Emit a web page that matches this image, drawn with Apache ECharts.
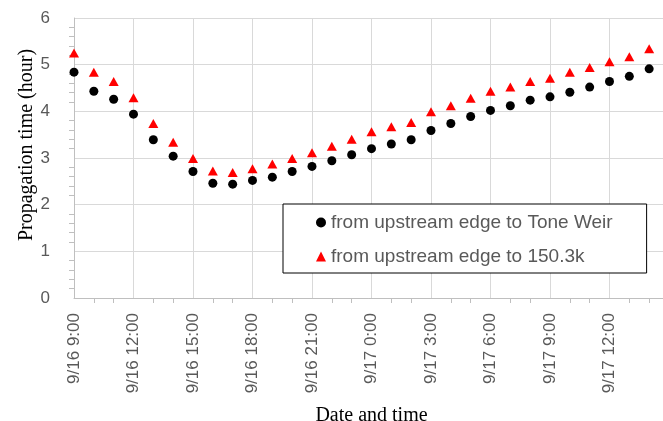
<!DOCTYPE html>
<html><head><meta charset="utf-8">
<script src="https://cdn.jsdelivr.net/npm/echarts@6/dist/echarts.min.js"></script>
<style>html,body{margin:0;padding:0;background:#fff}#c{width:663px;height:421px}</style>
</head><body><div id="c"></div>
<script>
// hours elapsed since 9/16 9:00
const hours = [0,1,2,3,4,5,6,7,8,9,10,11,12,13,14,15,16,17,18,19,20,21,22,23,24,25,26,27,28,29];
const toneWeir = [4.84,4.43,4.26,3.94,3.39,3.04,2.71,2.46,2.44,2.52,2.59,2.71,2.82,2.94,3.07,3.20,3.30,3.39,3.59,3.74,3.89,4.02,4.12,4.24,4.31,4.41,4.52,4.64,4.75,4.91];
const k150 = [5.25,4.84,4.64,4.29,3.74,3.34,2.99,2.72,2.69,2.77,2.87,2.99,3.11,3.25,3.40,3.56,3.67,3.76,3.99,4.12,4.28,4.43,4.52,4.64,4.71,4.84,4.94,5.06,5.17,5.34];
const seriesNames = ['from upstream edge to Tone Weir','from upstream edge to 150.3k'];

function tickLabel(h){
  const t = 9 + h;
  const day = t < 24 ? '9/16' : '9/17';
  return day + ' ' + (t % 24) + ':00';
}
const chart = echarts.init(document.getElementById('c'));
chart.setOption({
  animation:false,
  grid:{left:74, top:18, right:-6, bottom:123, containLabel:false, outerBoundsMode:'none'},
  xAxis:{
    type:'value', min:0, max:30, interval:3,
    name:'Date and time', nameLocation:'middle', nameGap:108,
    nameTextStyle:{fontFamily:'Liberation Serif', fontSize:20, color:'#000'},
    axisLine:{show:true, onZero:false, lineStyle:{color:'#bfbfbf'}},
    axisTick:{show:false},
    minorTick:{show:true, splitNumber:3, length:5, lineStyle:{color:'#bfbfbf'}},
    splitLine:{show:true, lineStyle:{color:'#d9d9d9'}},
    axisLabel:{rotate:90, margin:15, fontFamily:'Liberation Sans', fontSize:17, color:'#595959',
      showMaxLabel:false, formatter:v=>tickLabel(v)}
  },
  yAxis:{
    type:'value', min:0, max:6, interval:1,
    name:'Propagation time (hour)', nameLocation:'middle', nameGap:37, nameMoveOverlap:false,
    nameTextStyle:{fontFamily:'Liberation Serif', fontSize:20, color:'#000', padding:[0,0,0,26]},
    axisLine:{show:true, lineStyle:{color:'#bfbfbf'}},
    axisTick:{show:false},
    minorTick:{show:true, splitNumber:5, length:5, lineStyle:{color:'#bfbfbf'}},
    splitLine:{show:true, lineStyle:{color:'#d9d9d9'}},
    axisLabel:{margin:24, fontFamily:'Liberation Sans', fontSize:17, color:'#595959'}
  },
  legend:{
    orient:'vertical', left:283, top:204,
    padding:[9,34,7,33], itemGap:15, itemWidth:10, itemHeight:10,
    borderColor:'#000', borderWidth:1, backgroundColor:'#fff',
    textStyle:{fontFamily:'Liberation Sans', fontSize:19, color:'#595959'},
    data:[{name:seriesNames[0], icon:'circle'},{name:seriesNames[1], icon:'triangle'}]
  },
  series:[
    {name:seriesNames[0], type:'scatter', symbol:'circle', symbolSize:9, z:3,
     itemStyle:{color:'#000', opacity:1}, data:hours.map((h,i)=>[h,toneWeir[i]])},
    {name:seriesNames[1], type:'scatter', symbol:'triangle', symbolSize:[10,9], z:3,
     itemStyle:{color:'#ff0000', opacity:1}, data:hours.map((h,i)=>[h,k150[i]])}
  ]
});
</script></body></html>
